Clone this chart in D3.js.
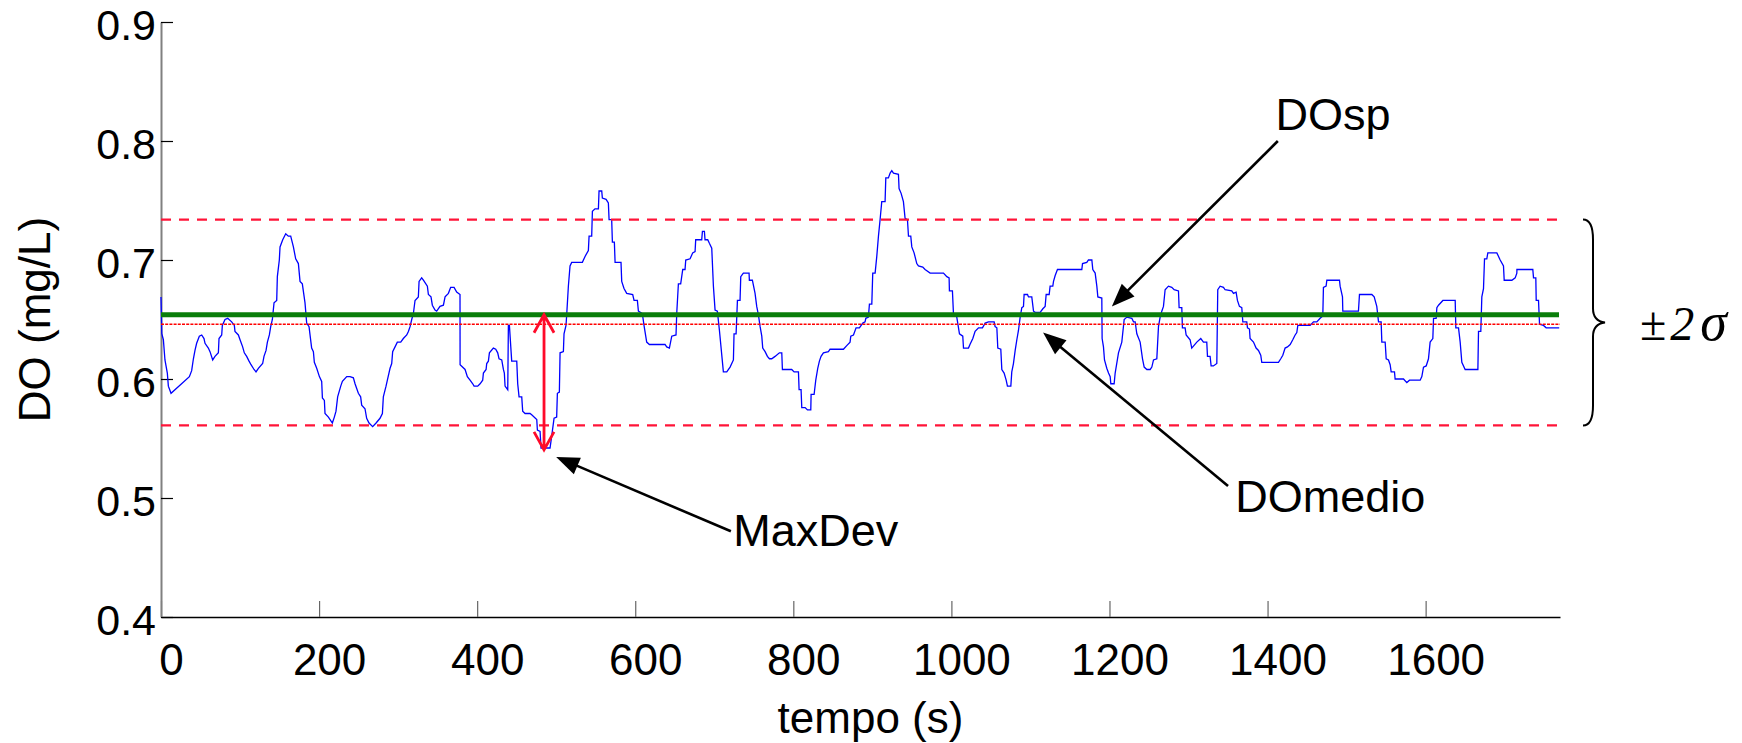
<!DOCTYPE html>
<html>
<head>
<meta charset="utf-8">
<script src="https://cdn.jsdelivr.net/npm/d3@7"></script>
<style>
body { margin: 0; background: #fff; }
text { font-family: "Liberation Sans", Arial, Helvetica, sans-serif; }
</style>
</head>
<body>
<div id="chart"></div>
<script>
var serieDO = [
  [0,0.669],[1,0.638],[3,0.633],[5,0.616],[8,0.605],[9.3,0.594],[12.7,0.588],[35.9,0.602],[38.8,0.607],[41,0.617],
  [43,0.624],[45.1,0.630],[48.5,0.636],[51.5,0.637],[54.4,0.634],[55.7,0.630],[59.9,0.626],[62,0.623],[65.4,0.616],
  [68.3,0.619],[72.6,0.622],[73.4,0.634],[76.8,0.637],[77.6,0.645],[81,0.650],[84.4,0.651],[89.4,0.648],[92.8,0.645],
  [93.6,0.640],[97.9,0.637],[100,0.633],[103.3,0.627],[105.4,0.622],[108.4,0.619],[111.4,0.615],[113.9,0.612],
  [117.7,0.608],[120.2,0.606],[123.2,0.609],[128.6,0.613],[130.3,0.619],[132.9,0.624],[134.6,0.631],[137.1,0.637],
  [138.8,0.644],[140.9,0.650],[143,0.664],[146.4,0.666],[147.2,0.686],[149.7,0.700],[150.6,0.711],[154,0.717],
  [157.8,0.722],[161.1,0.720],[164.1,0.720],[167.5,0.711],[170.4,0.701],[173.8,0.697],[175.9,0.682],[178.8,0.680],
  [182.2,0.664],[184.3,0.647],[187.3,0.644],[190.6,0.626],[192.8,0.623],[194,0.614],[197,0.609],[200.4,0.602],
  [203.3,0.598],[204.2,0.584],[206.7,0.582],[207.5,0.571],[211.8,0.568],[216.8,0.563],[219.3,0.568],[221.4,0.573],
  [223.5,0.585],[227.4,0.594],[229.5,0.598],[235,0.602],[239.2,0.602],
  [243.4,0.601],[245.5,0.596],[247.6,0.592],[249.7,0.588],[252.6,0.585],[253.9,0.578],[258.1,0.575],[260.2,0.567],
  [263.2,0.563],[267.8,0.560],[272.1,0.563],[277.1,0.567],[280.1,0.571],[281.3,0.585],[284.7,0.594],[286.4,0.599],
  [289.8,0.609],[291.9,0.613],[293.1,0.623],[296.1,0.627],[299,0.631],[303.3,0.631],[306.6,0.634],[310.9,0.637],
  [313,0.640],[315.1,0.644],[317.2,0.650],[319.3,0.655],[321.4,0.666],[325.6,0.669],[326.5,0.682],[329.8,0.685],
  [332,0.683],[337,0.678],[338.3,0.671],[341.6,0.669],[343.3,0.662],[346.7,0.658],[348.8,0.657],[353,0.661],
  [357.3,0.662],[359.4,0.669],[363.6,0.672],[366.5,0.677],[370.8,0.677],[374.1,0.673],[378.3,0.671],[378.4,0.612],
  [384.7,0.608],[387.6,0.602],[391,0.599],[394.4,0.596],[396.1,0.594],[400.7,0.594],[403.7,0.596],[407,0.599],
  [407.9,0.605],[411.3,0.608],[412.1,0.613],[414.2,0.615],[415.5,0.622],[420.5,0.626],[423.5,0.625],[426,0.622],
  [427.7,0.617],[431.1,0.616],[433.2,0.608],[434.4,0.605],[435.3,0.594],[438.7,0.591],[439.5,0.645],[440.8,0.645],
  [443.7,0.615],[450.1,0.615],[451.3,0.596],[453,0.585],[456.4,0.585],[457.6,0.573],[460.6,0.571],[466.9,0.571],
  [469,0.570],[475.4,0.566],[476.2,0.557],[479.6,0.556],[480.8,0.542],[492.2,0.542],
  [494.3,0.552],[497.3,0.567],[500.6,0.568],[501.5,0.588],[504,0.589],[504.9,0.622],[509.1,0.623],[509.9,0.638],
  [512.4,0.645],[513.3,0.654],[515.4,0.678],[517.5,0.695],[519.6,0.698],[533.1,0.698],[536.5,0.703],[540.7,0.708],
  [541.6,0.720],[544.9,0.720],[545.8,0.741],[549.1,0.743],[553.4,0.743],[554.2,0.758],[557.6,0.758],[558.4,0.752],
  [563.1,0.751],[566,0.748],[566.9,0.734],[570.2,0.734],[571.1,0.715],[573.6,0.715],[574.5,0.698],[582,0.698],
  [582.9,0.682],[585.8,0.676],[589.2,0.672],[596.8,0.671],[598.5,0.666],[602.7,0.666],[604,0.657],[609,0.655],
  [611.1,0.645],[614.5,0.631],[617.9,0.629],[637.7,0.629],[639.8,0.627],[643.2,0.626],[646.2,0.636],[651.6,0.637],
  [652.5,0.655],[654.6,0.680],[657.5,0.680],[660.1,0.692],[663,0.692],[663.9,0.700],[669.4,0.701],[672.7,0.706],
  [675.7,0.707],[676.5,0.717],[684.1,0.717],[685,0.724],[687.5,0.724],[688.3,0.717],[691.7,0.717],[693.8,0.714],
  [696.8,0.710],[698.9,0.678],[701,0.658],[703.9,0.657],[706.5,0.641],[711.5,0.606],[715.8,0.606],[720,0.610],
  [724.2,0.616],[725,0.638],[727.6,0.638],[729.3,0.666],[732.6,0.666],[733.5,0.686],[736.8,0.689],[744,0.689],
  [744.4,0.683],[748.2,0.683],
  [751.6,0.672],[753.7,0.661],[755.8,0.654],[758,0.644],[760.1,0.636],[761.3,0.626],[764.3,0.623],[767.2,0.619],
  [769.8,0.617],[772.7,0.617],[776.9,0.619],[782.4,0.622],[785.4,0.622],[786.2,0.608],[798,0.608],[801,0.606],
  [806.5,0.606],[807.3,0.591],[809.8,0.591],[810.7,0.576],[814.9,0.576],[817.9,0.574],[822.1,0.574],[822.5,0.587],
  [826.3,0.587],[828.4,0.599],[830.9,0.609],[833,0.615],[835.1,0.619],[838.1,0.622],[844.4,0.623],[846.5,0.625],
  [863.4,0.625],[867.6,0.628],[871.8,0.631],[872.7,0.636],[876.1,0.637],[879.4,0.643],[883.6,0.643],[887.9,0.647],
  [890.8,0.648],[891.7,0.651],[895,0.652],[896.3,0.663],[899.3,0.663],[900.5,0.689],[903.5,0.689],[905.6,0.703],
  [907.7,0.720],[909.8,0.734],[911.9,0.749],[916.1,0.749],[917,0.769],[920.3,0.769],[922.5,0.773],[924.6,0.775],
  [926.7,0.773],[933,0.772],[933.8,0.760],[936.4,0.756],[939.3,0.749],[941.4,0.735],[944.4,0.734],[945.7,0.720],
  [948.6,0.720],[949.9,0.711],[952.8,0.706],[956.2,0.697],[958.3,0.695],[963.8,0.694],[966.7,0.692],[973.1,0.689],
  [990,0.689],[994.2,0.686],[997.1,0.685],[997.5,0.674],[1001.3,0.674],[1002.6,0.655],[1006.8,0.652],[1010.2,0.638],
  [1014.4,0.636],[1015.3,0.626],[1021.6,0.626],[1023.5,0.629],[1027.1,0.634],[1030,0.640],[1034.3,0.643],
  [1039.3,0.643],[1042.7,0.647],[1046.9,0.648],[1054.1,0.648],[1055.3,0.644],[1057.5,0.643],[1058.7,0.626],
  [1062.5,0.625],[1063.8,0.608],[1066.7,0.605],[1069.3,0.599],[1070.9,0.594],[1075.2,0.594],[1076.4,0.606],
  [1078.5,0.613],[1080.7,0.624],[1082.8,0.633],[1084.9,0.641],[1087,0.652],[1089.1,0.660],[1091.2,0.661],
  [1092,0.671],[1096.3,0.671],[1097.5,0.669],[1101.7,0.669],[1103.9,0.657],[1106,0.656],[1112.3,0.656],
  [1115.7,0.659],[1118.6,0.661],[1119.9,0.671],[1123.7,0.671],[1124.9,0.678],[1128.3,0.678],[1129.2,0.682],
  [1131.3,0.687],[1134.2,0.692],[1165,0.692],[1165.9,0.697],[1171.3,0.698],[1173.4,0.700],[1177.7,0.700],
  [1178.9,0.692],[1181.9,0.689],[1184,0.678],[1185.3,0.669],[1190.3,0.668],[1190.7,0.634],[1192.4,0.627],
  [1193.7,0.616],[1196.6,0.609],[1198.8,0.605],[1200.9,0.602],[1201.7,0.596],[1205.9,0.596],[1207.2,0.605],
  [1211.4,0.622],[1215.6,0.631],[1218.6,0.650],[1222,0.652],[1228.3,0.651],[1230.4,0.648],[1232.5,0.648],
  [1234.6,0.638],[1238.8,0.631],[1241.8,0.617],[1243.9,0.610],[1247.3,0.608],[1251.5,0.608],[1253.6,0.610],
  [1255.7,0.616],[1259.9,0.617],[1262,0.644],[1264.1,0.652],
  [1266.2,0.657],[1268.3,0.661],[1270.4,0.675],[1274.6,0.678],[1278.8,0.677],[1281.8,0.675],[1287.3,0.674],
  [1288.1,0.660],[1291.5,0.660],[1292.3,0.643],[1295.7,0.643],[1297,0.637],[1302,0.633],[1304.1,0.626],
  [1310.5,0.631],[1315.5,0.634],[1318.9,0.631],[1323.1,0.631],[1324,0.619],[1327.3,0.619],[1328.6,0.611],
  [1331.5,0.611],[1335.8,0.613],[1337,0.675],[1340,0.678],[1344.2,0.677],[1346.3,0.675],[1354.7,0.674],
  [1356.9,0.672],[1360.2,0.673],[1361.9,0.666],[1364.4,0.661],[1367.4,0.660],[1368.7,0.648],[1373.7,0.648],
  [1374.6,0.643],[1377.1,0.642],[1377.9,0.634],[1382.2,0.631],[1385.5,0.626],[1388.5,0.624],[1391.4,0.620],
  [1392.7,0.614],[1413.8,0.614],[1416.7,0.617],[1419.3,0.620],[1422.2,0.626],[1425.2,0.627],[1428.6,0.629],
  [1431.9,0.633],[1434.9,0.637],[1437,0.639],[1438.3,0.645],[1453.9,0.645],[1458.1,0.648],[1462.3,0.648],
  [1466.5,0.651],[1469.9,0.653],[1470.7,0.677],[1474.1,0.678],[1475,0.683],[1491,0.683],[1491.8,0.678],
  [1494.8,0.669],[1495.2,0.657],[1515,0.657],[1516.3,0.671],
  [1531.9,0.671],[1534.9,0.669],[1538.2,0.661],[1540.4,0.648],[1543.7,0.648],[1544.6,0.631],[1548.8,0.631],
  [1550.1,0.617],[1553,0.616],[1555.1,0.612],[1556.4,0.606],[1560.6,0.606],[1561.4,0.600],[1572,0.600],
  [1576.2,0.597],[1579.6,0.599],[1593.1,0.599],[1595.2,0.602],[1597.3,0.610],[1600.7,0.611],[1603.6,0.617],
  [1605.7,0.631],[1609.1,0.634],[1610,0.651],[1613.3,0.651],[1614.2,0.660],[1616.3,0.662],[1621.8,0.666],
  [1637.4,0.666],[1638.2,0.643],[1641.6,0.643],[1643.7,0.631],[1645.8,0.614],[1650,0.608],[1666.1,0.608],
  [1666.9,0.640],[1669.8,0.640],[1671.1,0.669],[1673.2,0.676],[1674.5,0.701],[1677.4,0.701],[1678.7,0.706],
  [1690.1,0.706],[1694.3,0.700],[1698.5,0.695],[1699.4,0.683],[1709.1,0.683],[1713.3,0.685],[1715.4,0.689],
  [1715.5,0.692],[1735.6,0.692],[1736.5,0.685],[1739.4,0.685],[1739.9,0.666],[1742.8,0.666],[1744.1,0.646],
  [1749.1,0.645],[1752.5,0.643],[1769,0.643]
];

var xTicks = [0, 200, 400, 600, 800, 1000, 1200, 1400, 1600];
var yTicks = [0.4, 0.5, 0.6, 0.7, 0.8, 0.9];
var xDominio = [0, 1770];
var yDominio = [0.4, 0.9];

var doSetpoint = 0.654;          // DOsp
var doMedio = 0.646;             // DOmedio
var bandaSigma = [0.561, 0.734]; // DOmedio -2σ, +2σ
var maxDev = {t: 484.6, da: 0.654, a: 0.5405};

var annotazioni = [
  {testo: "DOsp",    punta: [1203, 0.661], coda: [1413, 0.800], testoPos: [1410, 0.809]},
  {testo: "DOmedio", punta: [1116, 0.639], coda: [1350, 0.510], testoPos: [1359, 0.488]},
  {testo: "MaxDev",  punta: [500, 0.5345], coda: [721, 0.472],  testoPos: [724, 0.460]}
];

var width = 1742, height = 743;

var svg = d3.select("#chart").append("svg")
    .attr("width", width)
    .attr("height", height)
    .style("background", "#fff");

var x = d3.scaleLinear().domain(xDominio).range([161, 1560]);
var y = d3.scaleLinear().domain(yDominio).range([617, 22]);

// assi (tick verso l'interno, come in MATLAB)
var xAxis = d3.axisBottom(x)
    .tickValues(xTicks)
    .tickSizeInner(-16)
    .tickSizeOuter(0)
    .tickFormat(d3.format("d"));

var yAxis = d3.axisLeft(y)
    .tickValues(yTicks)
    .tickSizeInner(-12)
    .tickSizeOuter(0)
    .tickPadding(5)
    .tickFormat(d3.format(".1f"));

var gx = svg.append("g")
    .attr("class", "x-axis axis")
    .attr("transform", "translate(0," + y(yDominio[0]) + ")")
    .call(xAxis);
gx.select(".domain").attr("stroke", "#000").attr("stroke-width", 1.5);
gx.selectAll(".tick line").attr("stroke", "#666").attr("stroke-width", 1.2);
gx.selectAll(".tick text")
    .attr("y", 58).attr("dy", null).attr("dx", 10)
    .attr("fill", "#000")
    .style("font-size", "44px");

var gy = svg.append("g")
    .attr("class", "y-axis axis")
    .attr("transform", "translate(" + x(xDominio[0]) + ",0)")
    .call(yAxis);
gy.select(".domain").attr("stroke", "#808080").attr("stroke-width", 2);
gy.selectAll(".tick line").attr("stroke", "#000").attr("stroke-width", 1.2);
gy.selectAll(".tick text")
    .attr("dy", "0.4em")
    .attr("fill", "#000")
    .style("font-size", "43px");

svg.append("text")
    .attr("transform", "translate(50," + ((y(0.9) + y(0.4)) / 2) + ") rotate(-90)")
    .attr("text-anchor", "middle")
    .style("font-size", "44px")
    .text("DO (mg/L)");

svg.append("text")
    .attr("x", (x(xDominio[0]) + x(xDominio[1])) / 2 + 10)
    .attr("y", 733)
    .attr("text-anchor", "middle")
    .style("font-size", "44px")
    .text("tempo (s)");

// serie misurata
var line = d3.line()
    .x(function(d) { return x(d[0]); })
    .y(function(d) { return y(d[1]); });

svg.append("path")
    .datum(serieDO)
    .attr("d", line)
    .attr("fill", "none")
    .attr("stroke", "#0000ff")
    .attr("stroke-width", 1.3);

// bande ±2σ
svg.selectAll(".banda")
    .data(bandaSigma)
    .enter().append("line")
    .attr("class", "banda")
    .attr("x1", x(xDominio[0])).attr("x2", x(xDominio[1]) + 2)
    .attr("y1", function(d) { return y(d); })
    .attr("y2", function(d) { return y(d); })
    .attr("stroke", "#ff1438")
    .attr("stroke-width", 2.2)
    .attr("stroke-dasharray", "10,8");

// DOmedio
svg.append("line")
    .attr("x1", x(xDominio[0])).attr("x2", x(xDominio[1]))
    .attr("y1", y(doMedio)).attr("y2", y(doMedio))
    .attr("stroke", "#ff0000")
    .attr("stroke-width", 1.6)
    .attr("stroke-dasharray", "3,1.2");

// DOsp
svg.append("line")
    .attr("x1", x(xDominio[0])).attr("x2", x(xDominio[1]) - 1)
    .attr("y1", y(doSetpoint)).attr("y2", y(doSetpoint))
    .attr("stroke", "#0a7d0a")
    .attr("stroke-width", 5);

// MaxDev: freccia doppia rossa
var mx = x(maxDev.t), my1 = y(maxDev.da), my2 = y(maxDev.a);
svg.append("path")
    .attr("d", "M" + mx + "," + my1 + "V" + my2 +
        "M" + (mx - 10) + "," + (my1 + 18) + "L" + mx + "," + my1 + "L" + (mx + 10) + "," + (my1 + 18) +
        "M" + (mx - 10) + "," + (my2 - 18) + "L" + mx + "," + my2 + "L" + (mx + 10) + "," + (my2 - 18))
    .attr("fill", "none")
    .attr("stroke", "#ff0a2a")
    .attr("stroke-width", 2.8);

// frecce nere con etichette
annotazioni.forEach(function(a) {
    var x1 = x(a.coda[0]), y1 = y(a.coda[1]);
    var x2 = x(a.punta[0]), y2 = y(a.punta[1]);
    var ang = Math.atan2(y2 - y1, x2 - x1);
    var len = 23, half = 9;
    var bx = x2 - len * Math.cos(ang), by = y2 - len * Math.sin(ang);

    svg.append("line")
        .attr("x1", x1).attr("y1", y1)
        .attr("x2", bx + 2 * Math.cos(ang)).attr("y2", by + 2 * Math.sin(ang))
        .attr("stroke", "#000")
        .attr("stroke-width", 2.6);

    svg.append("path")
        .attr("d", "M" + x2 + "," + y2 +
            "L" + (bx - half * Math.sin(ang)) + "," + (by + half * Math.cos(ang)) +
            "L" + (bx + half * Math.sin(ang)) + "," + (by - half * Math.cos(ang)) + "Z")
        .attr("fill", "#000");

    svg.append("text")
        .attr("x", x(a.testoPos[0]))
        .attr("y", y(a.testoPos[1]))
        .style("font-size", "45px")
        .text(a.testo);
});

// graffa ±2σ
var gTop = y(bandaSigma[1]), gBot = y(bandaSigma[0]), gMid = (gTop + gBot) / 2;
var bx0 = 1583, bx1 = 1593, bx2 = 1605;
svg.append("path")
    .attr("d", "M" + bx0 + "," + gTop +
        "C" + (bx0 + 7) + "," + gTop + " " + bx1 + "," + (gTop + 6) + " " + bx1 + "," + (gTop + 20) +
        "L" + bx1 + "," + (gMid - 14) +
        "C" + bx1 + "," + (gMid - 5) + " " + (bx1 + 4) + "," + (gMid - 1) + " " + bx2 + "," + gMid +
        "C" + (bx1 + 4) + "," + (gMid + 1) + " " + bx1 + "," + (gMid + 5) + " " + bx1 + "," + (gMid + 14) +
        "L" + bx1 + "," + (gBot - 20) +
        "C" + bx1 + "," + (gBot - 6) + " " + (bx0 + 7) + "," + gBot + " " + bx0 + "," + gBot)
    .attr("fill", "none")
    .attr("stroke", "#000")
    .attr("stroke-width", 2);

var sigma = svg.append("text")
    .attr("x", 1640)
    .attr("y", gMid + 18)
    .style("font-family", "'Liberation Serif', 'Times New Roman', serif")
    .style("font-size", "48px");
sigma.append("tspan").text("±");
sigma.append("tspan").attr("dx", 4).style("font-style", "italic").text("2");
sigma.append("tspan").attr("dx", 6).style("font-style", "italic").style("font-size", "54px").text("σ");
</script>
</body>
</html>
